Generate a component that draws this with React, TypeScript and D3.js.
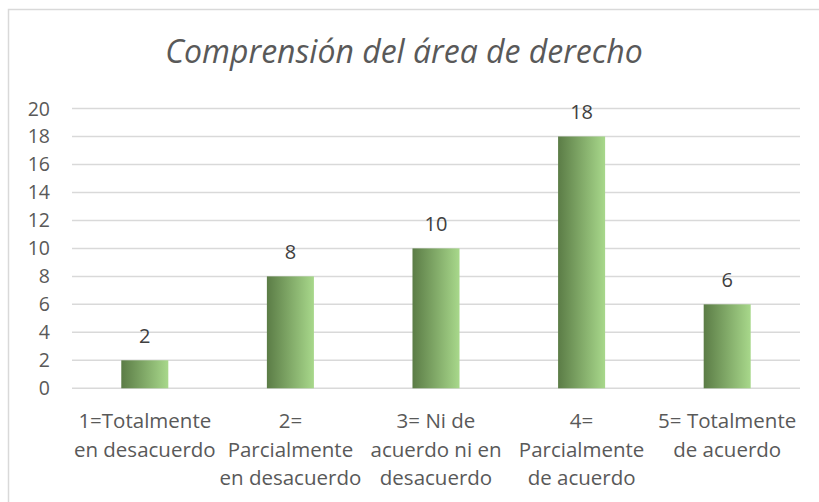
import React from "react";
import * as d3 from "d3";

const title = "Comprensión del área de derecho";
const categories = [
  ["1=Totalmente", "en desacuerdo"],
  ["2=", "Parcialmente", "en desacuerdo"],
  ["3= Ni de", "acuerdo ni en", "desacuerdo"],
  ["4=", "Parcialmente", "de acuerdo"],
  ["5= Totalmente", "de acuerdo"],
];
const values = [2, 8, 10, 18, 6];
const yTicks = [0, 2, 4, 6, 8, 10, 12, 14, 16, 18, 20];

export default function App() {
  const W = 819, H = 502;
  const left = 72, right = 800, top = 108.5, bottom = 388.3;
  const x = d3.scaleBand<number>().domain(d3.range(values.length)).range([left, right]).paddingInner(0.677).paddingOuter(0.3385);
  const xc = d3.scaleBand<number>().domain(d3.range(values.length)).range([left, right]);
  const y = d3.scaleLinear().domain([0, 20]).range([bottom, top]);
  const font = "'Open Sans', sans-serif";
  const txt = "#595959";
  const fs = 19.5;
  return (
    <svg width={W} height={H} style={{ position: "absolute", left: 0, top: 0, background: "#fff" }}>
      <defs>
        <linearGradient id="g" x1="0" x2="1" y1="0" y2="0">
          <stop offset="0" stopColor="#5b7c46" />
          <stop offset="1" stopColor="#a8d88b" />
        </linearGradient>
      </defs>
      <rect x={8.5} y={9.5} width={830} height={520} fill="#fff" stroke="#d9d9d9" strokeWidth={1.5} />
      <text x={404} y={63} textAnchor="middle" fontFamily={font} fontStyle="italic" fontSize={32} fill={txt}>{title}</text>
      {yTicks.map((t) => (
        <g key={t}>
          <line x1={left} x2={right} y1={y(t)} y2={y(t)} stroke="#d9d9d9" strokeWidth={1.5} />
          <text x={50} y={y(t) + 7} textAnchor="end" fontFamily={font} fontSize={fs} fill={txt}>{t}</text>
        </g>
      ))}
      {values.map((v, i) => (
        <g key={i}>
          <rect x={x(i)} y={y(v)} width={x.bandwidth()} height={y(0) - y(v)} fill="url(#g)" />
          <text x={x(i)! + x.bandwidth() / 2} y={y(v) - 17} textAnchor="middle" fontFamily={font} fontSize={20} fill="#404040">{v}</text>
        </g>
      ))}
      {categories.map((lines, i) => (
        <text key={i} textAnchor="middle" fontFamily={font} fontSize={20.5} fill={txt}>
          {lines.map((l, j) => (
            <tspan key={j} x={xc(i)! + xc.bandwidth() / 2} y={428 + j * 28.5}>{l}</tspan>
          ))}
        </text>
      ))}
    </svg>
  );
}
